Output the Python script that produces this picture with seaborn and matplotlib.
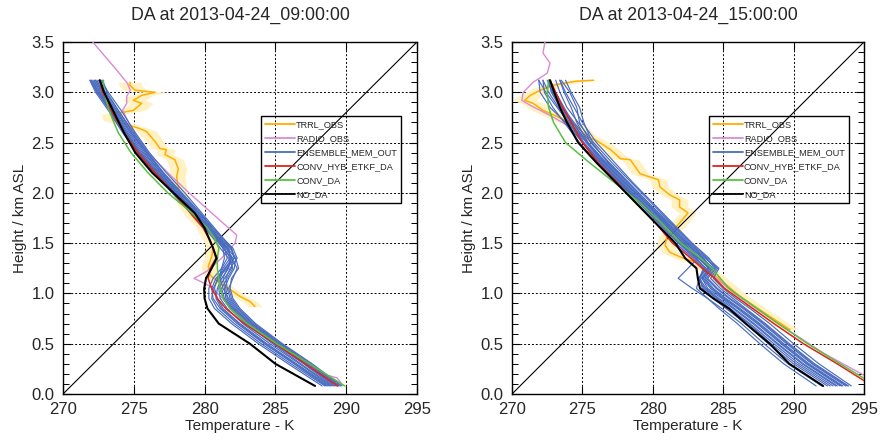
import matplotlib
matplotlib.use("Agg")
import matplotlib.pyplot as plt
from matplotlib.lines import Line2D
from matplotlib.ticker import MultipleLocator, FormatStrFormatter
import pandas as pd
import seaborn as sns

# ---------------------------------------------------------------- data
titles = ["DA at 2013-04-24_09:00:00", "DA at 2013-04-24_15:00:00"]
legend_labels = ["TRRL_OBS", "RADIO_OBS", "ENSEMBLE_MEM_OUT",
                 "CONV_HYB_ETKF_DA", "CONV_DA", "NO_DA"]

# ---- 09 UTC -----------------------------------------------------------
h_model_09 = [0.08, 0.3, 0.5, 0.7, 0.85, 0.95, 1.05, 1.15, 1.25, 1.35, 1.45,
              1.55, 1.65, 1.8, 2.0, 2.2, 2.4, 2.6, 2.8, 3.0, 3.12]
ens_09 = [
    [288.3, 285.9, 283.8, 281.9, 280.7, 280.3, 280.3, 280.6, 281.2, 281.6, 281.4, 280.9, 280.3, 279.4, 278.1, 276.8, 275.6, 274.6, 273.7, 272.6, 272.2],
    [288.6, 286.3, 284.2, 282.3, 281.1, 280.6, 280.5, 280.8, 281.5, 281.9, 281.6, 281.0, 280.4, 279.5, 278.2, 276.9, 275.8, 274.8, 273.9, 272.9, 272.5],
    [288.9, 286.7, 284.6, 282.7, 281.6, 281.1, 281.0, 281.4, 281.9, 282.0, 281.5, 280.9, 280.3, 279.3, 277.9, 276.6, 275.4, 274.5, 273.6, 272.5, 272.1],
    [289.2, 287.1, 285.0, 283.1, 282.0, 281.5, 281.4, 281.7, 282.1, 282.2, 281.8, 281.1, 280.5, 279.6, 278.3, 277.0, 275.9, 274.9, 274.0, 273.0, 272.6],
    [289.5, 287.4, 285.3, 283.4, 282.3, 281.8, 281.6, 281.5, 281.8, 282.3, 282.0, 281.3, 280.6, 279.7, 278.4, 277.1, 276.0, 275.0, 274.0, 273.1, 272.8],
    [289.7, 287.6, 285.5, 283.6, 282.5, 282.0, 281.8, 281.9, 282.4, 282.2, 281.6, 280.9, 280.2, 279.2, 277.8, 276.5, 275.3, 274.4, 273.5, 272.4, 271.9],
    [289.0, 286.8, 284.8, 282.9, 281.8, 281.3, 281.1, 281.0, 281.3, 281.8, 281.7, 281.0, 280.4, 279.4, 278.0, 276.7, 275.5, 274.5, 273.6, 272.7, 272.3],
    [288.8, 286.5, 284.4, 282.5, 281.3, 280.9, 280.7, 280.9, 281.6, 282.1, 281.9, 281.2, 280.6, 279.6, 278.3, 277.1, 275.9, 274.8, 273.8, 272.8, 272.4],
    [289.3, 287.2, 285.1, 283.2, 282.1, 281.6, 281.5, 281.3, 281.6, 281.9, 281.6, 281.0, 280.3, 279.3, 278.0, 276.7, 275.4, 274.3, 273.4, 272.5, 272.0],
    [289.6, 287.5, 285.4, 283.5, 282.4, 281.9, 281.7, 282.0, 282.3, 281.9, 281.3, 280.7, 280.1, 279.1, 277.8, 276.4, 275.2, 274.2, 273.3, 272.3, 271.9],
    [288.5, 286.1, 284.0, 282.1, 280.9, 280.5, 280.6, 281.0, 281.2, 281.4, 281.3, 280.8, 280.2, 279.3, 278.1, 276.9, 275.7, 274.7, 273.8, 272.8, 272.3],
    [289.1, 287.0, 284.9, 283.0, 281.9, 281.4, 281.2, 281.6, 282.0, 281.7, 281.1, 280.6, 280.0, 279.0, 277.7, 276.4, 275.2, 274.3, 273.4, 272.4, 272.0],
    [289.4, 287.3, 285.2, 283.3, 282.2, 281.7, 281.3, 281.1, 281.4, 282.1, 281.9, 281.3, 280.7, 279.8, 278.6, 277.3, 276.1, 275.1, 274.2, 273.2, 272.7],
    [288.7, 286.4, 284.3, 282.4, 281.2, 280.8, 280.9, 281.2, 281.7, 281.8, 281.4, 280.8, 280.1, 279.1, 277.9, 276.6, 275.4, 274.4, 273.5, 272.6, 272.2],
]
hyb_09 = [289.4, 287.1, 285.0, 282.8, 281.5, 280.9, 280.5, 280.25, 280.4, 280.8, 280.6,
          280.3, 279.9, 279.0, 277.8, 276.5, 275.3, 274.3, 273.5, 272.8, 272.6]
conv_09 = [289.9, 287.4, 285.1, 283.0, 281.8, 281.3, 281.1, 281.0, 280.9, 280.9, 281.0,
           280.7, 280.2, 279.1, 277.4, 276.0, 274.8, 273.9, 273.3, 272.9, 272.85]
noda_09 = [287.8, 285.0, 283.2, 281.0, 280.2, 280.0, 279.97, 280.1, 280.5, 280.85, 280.6,
           280.3, 280.0, 279.3, 277.8, 276.3, 275.1, 274.3, 273.6, 272.9, 272.6]
trrl_h_09 = [0.87, 0.92, 0.97, 1.02, 1.10, 1.18, 1.27, 1.365, 1.46, 1.53, 1.60, 1.66,
             1.76, 1.88, 2.0, 2.08, 2.16, 2.24, 2.33, 2.38, 2.43, 2.44, 2.51, 2.61,
             2.64, 2.69, 2.72, 2.78, 2.82, 2.89, 2.92, 2.97, 3.00, 3.02, 3.07, 3.10]
trrl_t_09 = [283.56, 283.2, 282.5, 282.0, 281.1, 280.4, 280.26, 280.5, 280.6, 280.4, 280.1, 279.9,
             279.2, 278.6, 278.26, 278.1, 278.03, 278.14, 277.9, 277.2, 277.3, 276.85, 276.5, 275.9,
             275.4, 274.26, 273.55, 273.4, 274.97, 275.56, 274.97, 275.56, 276.5, 275.1, 274.73, 274.73]
trrl_err_09 = [0.5, 0.5, 0.5, 0.5, 0.5, 0.5, 0.5, 0.5, 0.5, 0.5, 0.5, 0.5,
               0.5, 0.5, 0.5, 0.6, 0.6, 0.6, 0.6, 0.6, 0.6, 0.6, 0.6, 0.7,
               0.7, 0.7, 0.7, 0.7, 0.8, 0.8, 0.8, 0.8, 0.8, 0.8, 0.8, 0.8]
radio_h_09 = [0.09, 0.12, 0.16, 0.19, 0.5, 0.8, 1.0, 1.07, 1.12, 1.15, 1.22, 1.35, 1.5, 1.58,
              1.7, 1.8, 1.9, 2.0, 2.2, 2.4, 2.6, 2.82, 2.89, 2.96, 3.02, 3.09, 3.22, 3.5]
radio_t_09 = [289.7, 289.6, 289.35, 288.6, 285.3, 282.4, 280.9, 280.4, 279.7, 279.25, 280.15, 281.2, 282.15, 282.27,
              281.3, 280.5, 279.7, 278.9, 277.4, 276.0, 275.0, 274.2, 274.5, 274.5, 274.75, 274.55, 273.8, 272.1]

# ---- 15 UTC -----------------------------------------------------------
h_model_15 = [0.08, 0.3, 0.5, 0.7, 0.85, 0.95, 1.05, 1.15, 1.25, 1.35, 1.5,
              1.7, 1.9, 2.1, 2.3, 2.5, 2.7, 2.85, 3.0, 3.12]
ens_15 = [
    [291.6, 289.3, 287.6, 286.0, 284.7, 283.9, 283.1, 283.3, 283.8, 283.0, 281.8, 280.4, 279.0, 277.6, 276.2, 275.0, 274.0, 273.3, 272.6, 272.2],
    [292.4, 290.0, 288.2, 286.6, 285.2, 284.3, 283.5, 283.4, 284.0, 283.3, 282.1, 280.8, 279.3, 277.9, 276.5, 275.3, 274.3, 273.7, 273.1, 272.7],
    [292.8, 290.4, 288.6, 286.9, 285.5, 284.6, 283.7, 283.2, 283.9, 283.6, 282.3, 280.9, 279.4, 278.0, 276.6, 275.4, 274.6, 274.2, 273.7, 273.4],
    [293.1, 290.7, 288.9, 287.2, 285.8, 284.9, 283.9, 283.5, 284.3, 283.5, 282.4, 281.0, 279.6, 278.2, 276.8, 275.7, 275.1, 274.8, 274.2, 273.8],
    [293.4, 291.0, 289.2, 287.5, 286.1, 285.1, 284.2, 283.6, 284.1, 283.4, 282.2, 280.7, 279.2, 277.8, 276.4, 275.1, 274.2, 273.5, 272.9, 272.7],
    [293.7, 291.3, 289.5, 287.8, 286.4, 285.4, 284.5, 283.8, 284.4, 283.8, 282.6, 281.2, 279.7, 278.3, 276.9, 275.6, 274.4, 273.6, 272.9, 272.5],
    [293.9, 291.5, 289.7, 288.0, 286.6, 285.7, 284.8, 284.1, 284.6, 283.7, 282.5, 281.0, 279.5, 278.0, 276.6, 275.3, 274.1, 273.4, 272.8, 272.6],
    [294.1, 291.8, 290.0, 288.3, 286.9, 285.9, 285.0, 284.3, 284.7, 283.9, 282.7, 281.3, 279.9, 278.5, 277.1, 275.8, 274.7, 273.9, 273.4, 273.1],
    [292.0, 289.6, 287.9, 286.3, 284.9, 283.9, 282.8, 281.8, 282.5, 283.2, 282.0, 280.6, 279.1, 277.7, 276.3, 275.1, 274.0, 273.2, 272.4, 271.9],
    [293.0, 290.6, 288.8, 287.1, 285.7, 284.7, 283.8, 283.3, 283.7, 283.1, 281.9, 280.5, 279.1, 277.7, 276.3, 275.0, 273.8, 272.7, 272.0, 271.9],
    [293.5, 291.1, 289.3, 287.6, 286.2, 285.2, 284.3, 283.7, 284.2, 283.6, 282.4, 281.1, 279.7, 278.3, 276.9, 275.6, 274.8, 274.6, 274.1, 273.5],
    [292.6, 290.2, 288.4, 286.8, 285.4, 284.5, 283.6, 283.3, 283.6, 282.9, 281.6, 280.2, 278.8, 277.4, 276.0, 274.8, 273.7, 272.9, 272.3, 272.2],
    [293.8, 291.4, 289.6, 287.9, 286.5, 285.5, 284.6, 283.9, 284.5, 284.0, 282.8, 281.4, 280.0, 278.6, 277.3, 276.0, 275.0, 274.4, 273.8, 273.4],
    [293.3, 290.9, 289.1, 287.4, 286.0, 285.0, 284.1, 283.5, 284.0, 283.2, 282.1, 280.9, 279.5, 278.1, 276.7, 275.4, 274.3, 273.5, 272.8, 272.6],
]
hyb_15 = [295.6, 293.1, 290.7, 288.6, 287.1, 286.1, 285.1, 284.4, 283.5, 282.7, 281.4,
          280.2, 278.8, 277.5, 276.1, 275.0, 274.2, 273.6, 273.1, 272.7]
conv_15 = [295.9, 293.3, 291.0, 288.9, 287.4, 286.4, 285.4, 284.8, 284.2, 283.4, 282.0,
           280.6, 279.1, 277.3, 275.5, 273.8, 272.95, 272.6, 272.5, 272.6]
noda_15 = [292.1, 289.7, 288.3, 286.6, 285.4, 284.3, 283.35, 283.2, 283.1, 282.3, 281.6,
           280.2, 278.8, 277.4, 276.0, 274.7, 273.9, 273.4, 273.0, 272.7]
trrl_h_15 = [0.64, 0.8, 0.97, 1.1, 1.2, 1.30, 1.33, 1.365, 1.41, 1.48, 1.56, 1.61,
             1.70, 1.80, 1.86, 1.93, 1.98, 2.06, 2.13, 2.19, 2.33, 2.34, 2.43, 2.52,
             2.56, 2.66, 2.76, 2.82, 2.89, 2.92, 2.97, 3.02, 3.07, 3.11, 3.12]
trrl_t_15 = [289.74, 288.0, 286.2, 285.1, 284.2, 283.2, 282.6, 281.9, 281.2, 280.87, 281.0, 281.34,
             281.9, 282.5, 281.9, 281.9, 281.2, 280.5, 280.4, 279.1, 278.4, 277.7, 277.0, 276.0,
             275.3, 274.6, 273.2, 272.2, 271.5, 270.9, 271.3, 272.0, 272.9, 274.5, 275.8]
trrl_err_15 = [0.6, 0.6, 0.6, 0.6, 0.6, 0.6, 0.6, 0.6, 0.6, 0.6, 0.6, 0.6,
               0.6, 0.6, 0.6, 0.6, 0.6, 0.6, 0.6, 0.6, 0.6, 0.6, 0.6, 0.7,
               0.7, 0.7, 0.8, 0.8, 0.8, 0.8, 0.8, 0.8, 0.8, 0.8, 0.8]
radio_h_15 = [0.12, 0.19, 0.4, 0.7, 1.0, 1.3, 1.5, 1.8, 2.0, 2.3, 2.62, 2.77,
              2.87, 2.92, 3.0, 3.10, 3.19, 3.29, 3.39, 3.5]
radio_t_15 = [295.5, 294.95, 292.2, 288.9, 285.8, 283.2, 281.6, 279.8, 278.4, 276.4, 274.6, 272.7,
              271.3, 270.7, 270.8, 271.5, 272.5, 272.7, 272.2, 272.34]

# ---------------------------------------------------------------- style
sns.set_theme(style="ticks")
plt.rcParams["font.family"] = ["Liberation Sans", "DejaVu Sans"]

C_TRRL = "#ffad00"
C_BAND = "#fff1c2"
C_RADIO = "#dc8ad2"
C_ENS = "#4a6cc0"
C_HYB = "#e2231a"
C_CONV = "#58c040"
C_NODA = "#000000"


def profile_panel(ax, title, h_model, ens, hyb, conv, noda,
                  trrl_h, trrl_t, trrl_err, radio_h, radio_t):
    # observation uncertainty band
    lo = [t - e for t, e in zip(trrl_t, trrl_err)]
    hi = [t + e for t, e in zip(trrl_t, trrl_err)]
    ax.fill_betweenx(trrl_h, lo, hi, color=C_BAND, lw=0, zorder=1)

    # 1:1 reference diagonal across the panel
    ax.plot([0, 1], [0, 1], transform=ax.transAxes, color="black", lw=0.8, zorder=2)

    sns.lineplot(x=trrl_t, y=trrl_h, sort=False, estimator=None, color=C_TRRL,
                 lw=1.1, ax=ax, zorder=3)
    sns.lineplot(x=radio_t, y=radio_h, sort=False, estimator=None, color=C_RADIO,
                 lw=1.0, ax=ax, zorder=3)

    rows = []
    for m, temps in enumerate(ens):
        for h, t in zip(h_model, temps):
            rows.append({"member": m, "T": t, "h": h})
    df = pd.DataFrame(rows)
    sns.lineplot(data=df, x="T", y="h", units="member", estimator=None, sort=False,
                 color=C_ENS, lw=0.85, ax=ax, zorder=4, legend=False)

    sns.lineplot(x=hyb, y=h_model, sort=False, estimator=None, color=C_HYB, lw=1.1, ax=ax, zorder=5)
    sns.lineplot(x=conv, y=h_model, sort=False, estimator=None, color=C_CONV, lw=1.1, ax=ax, zorder=5)
    sns.lineplot(x=noda, y=h_model, sort=False, estimator=None, color=C_NODA, lw=1.5, ax=ax, zorder=6)

    ax.set_xlim(270, 295)
    ax.set_ylim(0, 3.5)
    ax.xaxis.set_major_locator(MultipleLocator(5))
    ax.yaxis.set_major_locator(MultipleLocator(0.5))
    ax.yaxis.set_minor_locator(MultipleLocator(0.1))
    ax.yaxis.set_major_formatter(FormatStrFormatter("%.1f"))
    ax.grid(True, which="major", color="black", ls=(0, (2, 2)), lw=0.7, zorder=0)
    ax.tick_params(which="both", direction="in", top=True, right=True, color="black",
                   labelsize=12, pad=6)
    ax.tick_params(which="major", length=6, width=0.8)
    ax.tick_params(which="minor", length=4, width=0.7)
    for s in ax.spines.values():
        s.set_color("black")
        s.set_linewidth(1.0)

    ax.set_title(title, fontsize=12.8, pad=16)
    ax.set_xlabel("Temperature - K", fontsize=11, labelpad=1)
    ax.set_ylabel("Height / km ASL", fontsize=11, labelpad=3)

    handles = [Line2D([], [], color=c, lw=1.3) for c in
               (C_TRRL, C_RADIO, C_ENS, C_HYB, C_CONV, C_NODA)]
    leg = ax.legend(handles, legend_labels, loc="upper left",
                    bbox_to_anchor=(0.56, 0.79), borderaxespad=0,
                    fontsize=6.6, handlelength=3.2, handletextpad=0.15,
                    labelspacing=0.55, borderpad=0.45, frameon=True,
                    fancybox=False, edgecolor="black")
    frame = leg.get_frame()
    frame.set_facecolor("none")
    frame.set_edgecolor("black")
    frame.set_alpha(None)
    frame.set_linewidth(1.0)
    leg.set_zorder(10)


fig = plt.figure(figsize=(8.81, 4.43), dpi=100)
ax_l = fig.add_axes([63 / 881, 49 / 443, 354 / 881, 352 / 443])
ax_r = fig.add_axes([512 / 881, 49 / 443, 352 / 881, 352 / 443])

profile_panel(ax_l, titles[0], h_model_09, ens_09, hyb_09, conv_09, noda_09,
              trrl_h_09, trrl_t_09, trrl_err_09, radio_h_09, radio_t_09)
profile_panel(ax_r, titles[1], h_model_15, ens_15, hyb_15, conv_15, noda_15,
              trrl_h_15, trrl_t_15, trrl_err_15, radio_h_15, radio_t_15)

fig.savefig("out.png", dpi=100)
